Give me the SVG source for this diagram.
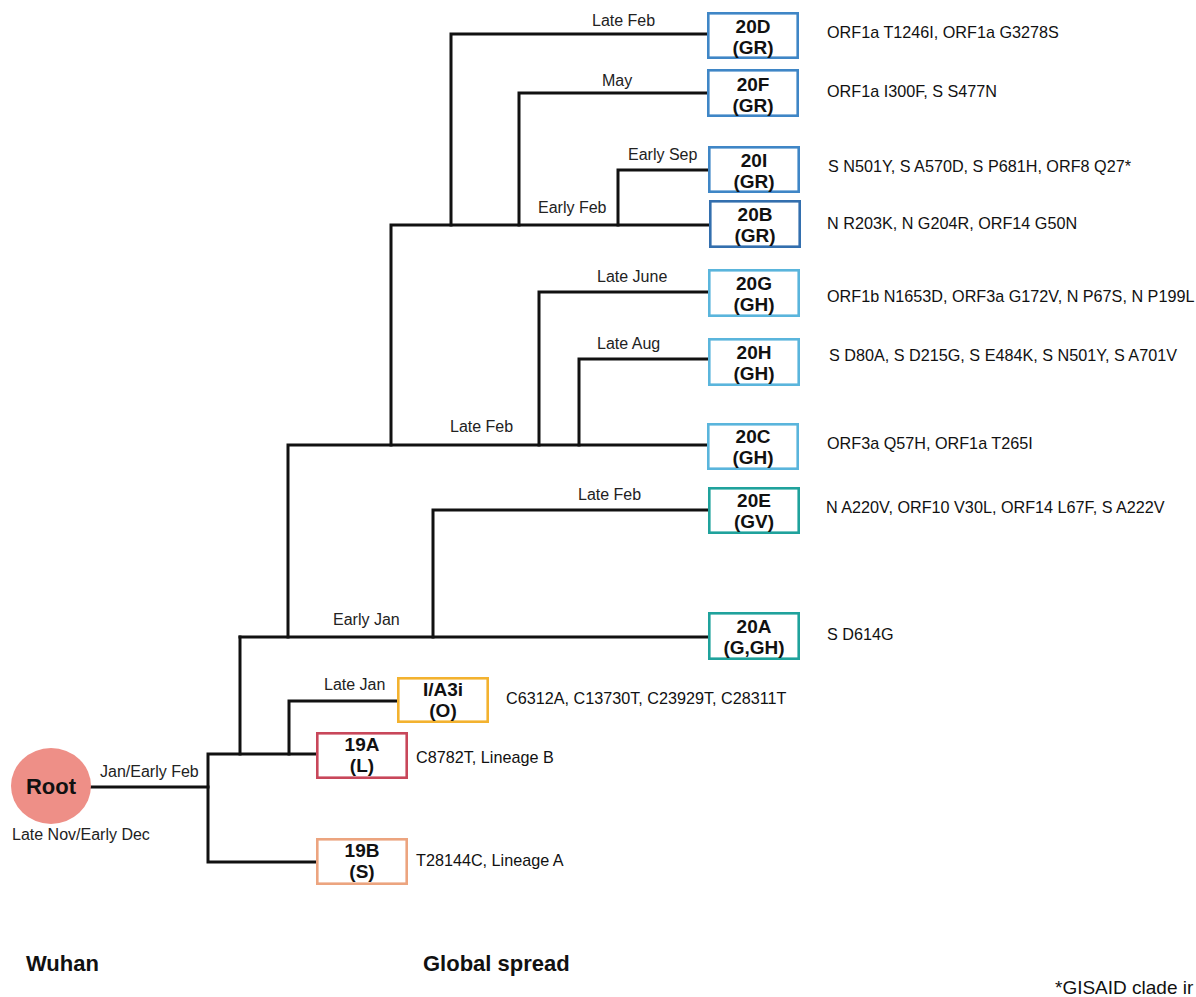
<svg xmlns="http://www.w3.org/2000/svg" width="1196" height="997" viewBox="0 0 1196 997">
<style>
.bg{fill:#fff}
.box{fill:#fff;stroke-width:2.6}
.b1{stroke:#3f86c6}
.b2{stroke:#336fae}
.b3{stroke:#5ab5dc}
.b4{stroke:#1fa29c}
.b5{stroke:#f3b22f}
.b6{stroke:#c8475a}
.b7{stroke:#eca47f}
.bt{font-family:"Liberation Sans",Arial,sans-serif;font-weight:bold;font-size:19px;fill:#111;text-anchor:middle}
.lbl{font-family:"Liberation Sans",Arial,sans-serif;font-size:16px;fill:#222}
.mut{font-family:"Liberation Sans",Arial,sans-serif;font-size:16.2px;fill:#111}
.big{font-family:"Liberation Sans",Arial,sans-serif;font-weight:bold;font-size:22px;fill:#111}
.conn path{fill:none;stroke:#111;stroke-width:3;stroke-linejoin:miter;stroke-linecap:square}
</style>
<rect class="bg" x="0" y="0" width="1196" height="997"/>

<g id="connectors" class="conn">
  <path d="M91 787 H208"/>
  <path d="M316 754 H208 V862 H316"/>
  <path d="M240 754 V637"/>
  <path d="M289 754 V701 H397"/>
  <path d="M240 637 H708"/>
  <path d="M288 637 V445 H707"/>
  <path d="M433 637 V510 H708"/>
  <path d="M391 445 V225 H709"/>
  <path d="M539 445 V292 H708"/>
  <path d="M579 445 V359 H708"/>
  <path d="M451 225 V34 H707"/>
  <path d="M519 225 V93 H707"/>
  <path d="M618 225 V170 H708"/>
</g>

<g id="branch-labels">
  <text class="lbl" x="592" y="26">Late Feb</text>
  <text class="lbl" x="602" y="86">May</text>
  <text class="lbl" x="628" y="160">Early Sep</text>
  <text class="lbl" x="538" y="213">Early Feb</text>
  <text class="lbl" x="597" y="282">Late June</text>
  <text class="lbl" x="597" y="349">Late Aug</text>
  <text class="lbl" x="450" y="432">Late Feb</text>
  <text class="lbl" x="578" y="500">Late Feb</text>
  <text class="lbl" x="333" y="625">Early Jan</text>
  <text class="lbl" x="324" y="690">Late Jan</text>
  <text class="lbl" x="100" y="777">Jan/Early Feb</text>
</g>

<g id="root">
  <ellipse cx="51" cy="786" rx="40" ry="38" fill="#ee8f87"/>
  <text class="big" x="51" y="794" text-anchor="middle" style="font-size:22px">Root</text>
  <text class="lbl" x="12" y="840">Late Nov/Early Dec</text>
</g>

<g id="n20D">
  <rect class="box b1" x="708.3" y="13.3" width="89.4" height="44.4"/>
  <text class="bt" x="753" y="33">20D</text>
  <text class="bt" x="753" y="54">(GR)</text>
  <text class="mut" x="827" y="38">ORF1a T1246I, ORF1a G3278S</text>
</g>
<g id="n20F">
  <rect class="box b1" x="708.3" y="70.3" width="89.4" height="45.4"/>
  <text class="bt" x="753" y="91">20F</text>
  <text class="bt" x="753" y="112">(GR)</text>
  <text class="mut" x="827" y="97">ORF1a I300F, S S477N</text>
</g>
<g id="n20I">
  <rect class="box b1" x="709.3" y="147.3" width="89.4" height="44.4"/>
  <text class="bt" x="754" y="167">20I</text>
  <text class="bt" x="754" y="188">(GR)</text>
  <text class="mut" x="828" y="172">S N501Y, S A570D, S P681H, ORF8 Q27*</text>
</g>
<g id="n20B">
  <rect class="box b2" x="710.3" y="201.3" width="89.4" height="45.4"/>
  <text class="bt" x="755" y="221">20B</text>
  <text class="bt" x="755" y="242">(GR)</text>
  <text class="mut" x="827" y="229">N R203K, N G204R, ORF14 G50N</text>
</g>
<g id="n20G">
  <rect class="box b3" x="709.3" y="270.3" width="89.4" height="45.4"/>
  <text class="bt" x="754" y="290">20G</text>
  <text class="bt" x="754" y="311">(GH)</text>
  <text class="mut" x="827" y="302">ORF1b N1653D, ORF3a G172V, N P67S, N P199L</text>
</g>
<g id="n20H">
  <rect class="box b3" x="709.3" y="339.3" width="89.4" height="45.4"/>
  <text class="bt" x="754" y="359">20H</text>
  <text class="bt" x="754" y="380">(GH)</text>
  <text class="mut" x="829" y="361">S D80A, S D215G, S E484K, S N501Y, S A701V</text>
</g>
<g id="n20C">
  <rect class="box b3" x="708.3" y="424.3" width="89.4" height="44.4"/>
  <text class="bt" x="753" y="443">20C</text>
  <text class="bt" x="753" y="464">(GH)</text>
  <text class="mut" x="827" y="449">ORF3a Q57H, ORF1a T265I</text>
</g>
<g id="n20E">
  <rect class="box b4" x="709.3" y="488.3" width="89.4" height="44.4"/>
  <text class="bt" x="754" y="507">20E</text>
  <text class="bt" x="754" y="528">(GV)</text>
  <text class="mut" x="826" y="513">N A220V, ORF10 V30L, ORF14 L67F, S A222V</text>
</g>
<g id="n20A">
  <rect class="box b4" x="709.3" y="613.3" width="89.4" height="45.4"/>
  <text class="bt" x="754" y="633">20A</text>
  <text class="bt" x="754" y="654">(G,GH)</text>
  <text class="mut" x="827" y="640">S D614G</text>
</g>
<g id="nIA3i">
  <rect class="box b5" x="398.3" y="678.3" width="89.4" height="43.4"/>
  <text class="bt" x="443" y="696">I/A3i</text>
  <text class="bt" x="443" y="717">(O)</text>
  <text class="mut" x="506" y="704">C6312A, C13730T, C23929T, C28311T</text>
</g>
<g id="n19A">
  <rect class="box b6" x="317.3" y="733.3" width="89.4" height="44.4"/>
  <text class="bt" x="362" y="751">19A</text>
  <text class="bt" x="362" y="772">(L)</text>
  <text class="mut" x="416" y="763">C8782T, Lineage B</text>
</g>
<g id="n19B">
  <rect class="box b7" x="317.3" y="839.3" width="89.4" height="44.4"/>
  <text class="bt" x="362" y="857">19B</text>
  <text class="bt" x="362" y="878">(S)</text>
  <text class="mut" x="416" y="866">T28144C, Lineage A</text>
</g>

<g id="footer">
  <text class="big" x="26" y="971">Wuhan</text>
  <text class="big" x="423" y="971">Global spread</text>
  <text class="mut" x="1055" y="994" style="font-size:19px">*GISAID clade ir</text>
</g>
</svg>
